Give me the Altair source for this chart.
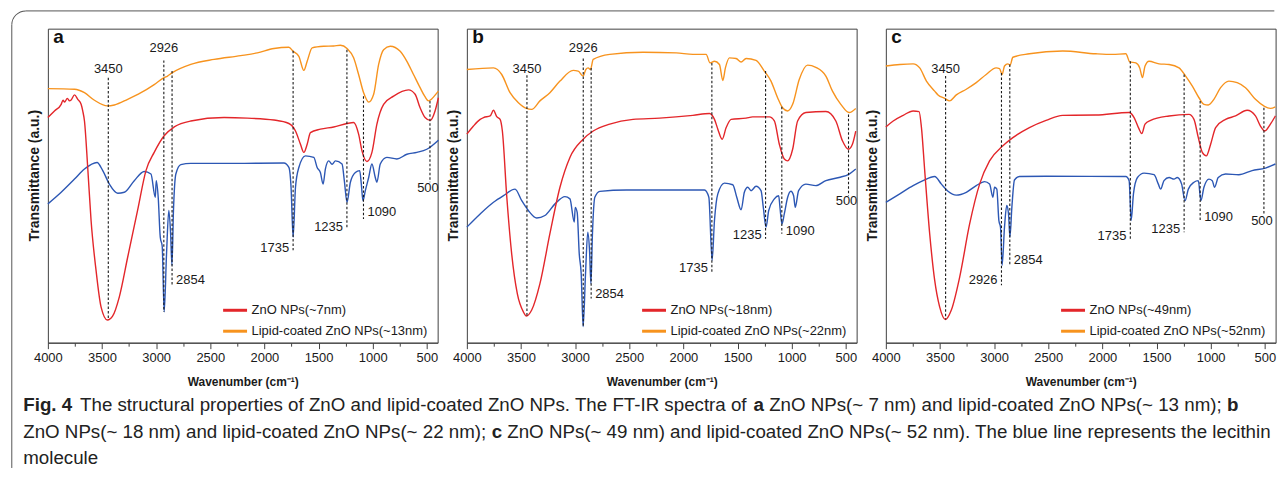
import math
import altair as alt
import pandas as pd

# ---------------- data ----------------
PEAK_LABELS = ["3450", "2926", "2854", "1735", "1235", "1090", "500"]
X_TICKS_MAJOR = [4000, 3500, 3000, 2500, 2000, 1500, 1000, 500]
X_TICKS_MINOR = [3750, 3250, 2750, 2250, 1750, 1250, 750]

LEGEND_A = ["ZnO NPs(~7nm)", "Lipid-coated ZnO NPs(~13nm)"]
LEGEND_B = ["ZnO NPs(~18nm)", "Lipid-coated ZnO NPs(~22nm)"]
LEGEND_C = ["ZnO NPs(~49nm)", "Lipid-coated ZnO NPs(~52nm)"]

# panel a
A_RED_WN = [4000, 3939, 3877, 3860, 3846, 3820, 3800, 3785, 3754, 3724, 3693, 3678, 3662, 3632, 3601, 3555, 3509, 3450, 3401, 3340,
            3263, 3171, 3094, 3018, 2926, 2833, 2680, 2373, 2158, 1912, 1774, 1713, 1667, 1636, 1605, 1575, 1483, 1360, 1237, 1176,
            1130, 1099, 1053, 1007, 961, 899, 807, 669, 608, 562, 516, 469, 424, 393]
A_RED_T = [71.7, 73.8, 75.9, 77.2, 76.6, 77.8, 77.0, 77.3, 78.9, 77.5, 75.9, 73.8, 70.6, 55.8, 38.9, 23.0, 11.4, 7.2, 8.5, 14.6,
           27.2, 42.2, 54.8, 60.6, 65.9, 68.7, 70.6, 71.7, 71.5, 70.9, 69.8, 67.4, 63.2, 60.6, 63.2, 66.9, 68.0, 68.7, 69.8, 70.1,
           66.4, 61.1, 57.7, 60.6, 69.6, 75.9, 78.5, 80.5, 79.1, 74.8, 71.7, 70.8, 73.8, 78.0]
A_ORG_WN = [4000, 3754, 3662, 3570, 3450, 3386, 3263, 3140, 3018, 2926, 2895, 2854, 2680, 2465, 2219, 2066, 1912, 1774, 1735, 1682,
            1636, 1605, 1559, 1452, 1360, 1298, 1237, 1176, 1130, 1084, 1037, 991, 945, 899, 838, 746, 684, 623, 562, 520,
            485, 455, 439, 393]
A_ORG_T = [80.9, 80.7, 79.6, 77.2, 75.4, 75.7, 77.5, 79.6, 82.2, 84.4, 84.9, 85.9, 88.6, 90.2, 91.4, 92.3, 93.7, 94.1, 92.8, 91.2,
           86.7, 89.6, 93.9, 94.4, 94.5, 94.7, 93.7, 90.7, 85.4, 79.6, 76.6, 79.1, 88.6, 93.3, 94.4, 92.8, 89.6, 85.4, 81.2, 78.5,
           77.0, 77.6, 78.2, 80.1]
A_BLUE_WN = [4000, 3877, 3754, 3662, 3546, 3493, 3432, 3355, 3294, 3202, 3110, 3048, 3008, 2999, 2981, 2962, 2944, 2926, 2904, 2883,
             2867, 2854, 2840, 2818, 2772, 2680, 2219, 1820, 1774, 1754, 1735, 1713, 1682, 1621, 1544, 1513, 1483, 1458, 1437, 1406,
             1375, 1344, 1283, 1262, 1237, 1206, 1160, 1120, 1105, 1090, 1068, 1037, 1007, 976, 961, 930, 869, 777, 684, 592,
             500, 393]
A_BLUE_T = [44.2, 47.9, 52.1, 55.3, 57.4, 54.8, 50.5, 47.6, 47.9, 51.6, 54.5, 53.7, 46.3, 51.6, 46.3, 33.6, 30.7, 9.8, 28.3, 42.1,
            35.2, 24.6, 42.1, 53.7, 56.7, 57.1, 57.1, 57.2, 55.8, 49.5, 33.6, 49.5, 55.8, 59.5, 59.0, 55.8, 54.2, 50.5, 55.3, 57.9,
            56.8, 57.9, 56.9, 51.6, 44.7, 51.1, 54.2, 54.8, 50.5, 45.2, 48.4, 52.6, 56.9, 52.6, 51.1, 56.9, 59.0, 58.5, 60.0, 60.6,
            61.6, 64.5]
A_LINE_WN = [3442, 2929, 2853, 1735, 1238, 1085, 471]
A_TOP = [84.4, 89.9, 86.5, 93.0, 93.3, 78.5, 77.0]
A_BOT = [7.2, 9.8, 18.0, 29.4, 36.3, 39.4, 51.1]
A_LAB_T = [87.0, 93.7, 19.9, 30.2, 36.8, 41.5, 49.2]
A_LAB_POS = ["above", "above", "right", "left", "left", "right", "below"]

# panel b
B_RED_WN = [4000, 3939, 3877, 3846, 3785, 3754, 3724, 3693, 3672, 3632, 3586, 3534, 3478, 3450, 3401, 3325, 3233, 3140, 3048, 2926,
            2833, 2680, 2465, 2219, 1912, 1759, 1713, 1682, 1642, 1605, 1559, 1421, 1360, 1206, 1160, 1114, 1068, 1037, 991, 945,
            869, 684, 592, 531, 476, 439, 408]
B_RED_T = [66.4, 69.0, 71.1, 71.7, 72.2, 74.0, 72.0, 71.1, 67.4, 46.8, 28.3, 15.6, 9.8, 8.5, 10.4, 18.8, 34.7, 49.5, 59.0, 64.8,
           67.4, 69.6, 71.1, 71.5, 72.4, 73.0, 71.1, 68.0, 64.8, 68.5, 71.1, 71.5, 71.9, 71.9, 70.6, 63.2, 58.5, 57.9, 61.6, 70.6,
           73.3, 73.6, 70.6, 64.3, 61.6, 63.2, 67.4]
B_ORG_WN = [4000, 3754, 3678, 3601, 3524, 3450, 3401, 3325, 3233, 3140, 3018, 2972, 2926, 2901, 2880, 2858, 2833, 2680, 2373, 2066,
            1912, 1790, 1754, 1713, 1667, 1636, 1612, 1575, 1513, 1467, 1421, 1329, 1253, 1191, 1130, 1084, 1037, 991, 930, 853,
            777, 684, 623, 546, 469, 408]
B_ORG_T = [87.0, 87.5, 85.4, 79.6, 76.4, 74.6, 74.3, 77.0, 79.6, 83.3, 86.7, 86.5, 84.9, 87.0, 87.5, 87.0, 90.2, 91.8, 92.5, 92.3,
           91.8, 91.8, 89.1, 89.6, 88.6, 83.5, 87.5, 90.7, 90.5, 89.4, 90.5, 89.9, 86.5, 83.3, 78.0, 74.8, 73.8, 75.9, 83.8, 88.4,
           87.7, 84.9, 80.1, 75.9, 73.3, 74.6]
B_BLUE_WN = [4000, 3877, 3754, 3662, 3555, 3493, 3432, 3355, 3279, 3186, 3094, 3048, 3008, 2999, 2981, 2962, 2944, 2926, 2904, 2883,
             2867, 2854, 2840, 2818, 2772, 2526, 1805, 1765, 1735, 1713, 1682, 1621, 1544, 1507, 1467, 1437, 1406, 1375, 1329, 1283,
             1262, 1237, 1212, 1160, 1120, 1108, 1090, 1068, 1037, 1007, 982, 967, 936, 869, 777, 684, 562, 469, 408]
B_BLUE_T = [36.8, 41.0, 44.7, 46.8, 48.9, 45.2, 42.1, 39.7, 40.5, 44.2, 46.5, 45.8, 38.4, 43.1, 41.5, 28.3, 22.0, 5.1, 22.0, 35.2,
            29.4, 18.8, 34.7, 46.3, 48.2, 48.6, 48.6, 46.3, 26.2, 38.9, 47.4, 50.8, 50.3, 46.3, 42.3, 47.9, 49.5, 48.4, 49.8, 48.4,
            43.1, 36.8, 42.1, 45.8, 46.8, 43.1, 37.8, 41.0, 46.3, 48.2, 46.8, 43.1, 48.4, 50.5, 50.0, 51.6, 52.6, 53.7, 55.3]
B_LINE_WN = [3445, 2925, 2852, 1737, 1241, 1091, 475]
B_TOP = [85.2, 90.5, 87.5, 89.1, 86.5, 75.1, 72.7]
B_BOT = [8.5, 5.1, 14.1, 22.5, 33.1, 34.7, 46.8]
B_LAB_T = [87.0, 93.7, 15.4, 23.9, 34.4, 35.7, 45.2]
B_LAB_POS = ["above", "above", "right", "left", "left", "right", "below"]

# panel c
C_RED_WN = [4000, 3932, 3840, 3748, 3693, 3671, 3641, 3595, 3549, 3503, 3450, 3395, 3318, 3226, 3134, 3042, 2919, 2827, 2674, 2520,
            2367, 2060, 1753, 1707, 1667, 1636, 1606, 1554, 1384, 1200, 1154, 1114, 1077, 1040, 1000, 954, 862, 770, 663, 586,
            540, 500, 448, 402]
C_RED_T = [68.7, 70.6, 72.4, 73.8, 73.6, 68.5, 54.8, 34.7, 19.9, 11.4, 7.4, 10.4, 20.9, 37.8, 50.5, 57.9, 62.7, 65.3, 68.5, 70.8,
           72.4, 72.5, 73.3, 71.7, 68.5, 66.6, 69.6, 70.8, 72.2, 72.7, 71.1, 65.3, 60.6, 59.5, 63.2, 68.5, 71.1, 72.2, 74.0, 72.2,
           69.0, 67.4, 69.6, 72.2]
C_ORG_WN = [4000, 3871, 3748, 3687, 3625, 3549, 3518, 3457, 3411, 3349, 3257, 3165, 3073, 2981, 2950, 2926, 2904, 2873, 2852, 2827,
            2674, 2367, 2060, 1906, 1783, 1747, 1691, 1655, 1630, 1606, 1569, 1477, 1384, 1292, 1231, 1169, 1108, 1062, 1022, 970,
            908, 832, 755, 678, 586, 509, 448, 402]
C_ORG_T = [88.1, 88.6, 88.8, 87.5, 83.3, 80.1, 78.9, 77.8, 77.0, 78.9, 80.7, 82.8, 85.4, 87.5, 87.3, 85.4, 88.1, 88.8, 88.4, 90.9,
           92.0, 92.9, 92.0, 91.8, 92.0, 89.4, 89.1, 87.5, 84.4, 88.1, 89.6, 88.8, 88.6, 87.5, 84.9, 81.7, 78.0, 75.9, 75.7, 77.5,
           81.2, 83.3, 82.8, 81.2, 77.5, 75.4, 74.6, 75.1]
C_BLUE_WN = [4000, 3871, 3748, 3656, 3549, 3487, 3426, 3349, 3257, 3165, 3088, 3042, 3011, 2996, 2975, 2956, 2941, 2926, 2904, 2883,
             2867, 2854, 2836, 2812, 2766, 2520, 1783, 1753, 1734, 1713, 1676, 1615, 1523, 1483, 1462, 1431, 1384, 1338, 1308, 1268,
             1237, 1206, 1154, 1114, 1090, 1062, 1016, 985, 964, 930, 862, 740, 617, 494, 402]
C_BLUE_T = [44.7, 47.4, 50.0, 51.6, 52.9, 50.5, 48.2, 47.0, 47.9, 50.0, 51.3, 50.5, 46.3, 49.5, 48.9, 38.9, 36.8, 24.6, 36.8, 43.7,
            41.0, 33.6, 43.1, 51.8, 52.9, 53.0, 52.9, 51.6, 38.9, 47.4, 52.6, 54.0, 53.5, 50.5, 48.9, 51.6, 52.6, 52.1, 52.6, 50.5,
            45.2, 48.9, 51.1, 51.6, 45.2, 49.5, 52.1, 51.6, 49.5, 52.6, 53.7, 53.5, 54.8, 55.6, 56.9]
C_LINE_WN = [3448, 2932, 2855, 1742, 1245, 1097, 508]
C_TOP = [84.9, 85.9, 88.6, 89.6, 85.4, 77.0, 74.8]
C_BOT = [7.4, 18.3, 24.6, 33.1, 35.2, 38.4, 41.0]
C_LAB_T = [87.0, 19.9, 26.2, 34.1, 36.3, 40.0, 38.9]
C_LAB_POS = ["above", "left", "right", "left", "left", "right", "below"]

CAPTION = [
    [("Fig. 4", True),
     ("The structural properties of ZnO and lipid-coated ZnO NPs. The FT-IR spectra of", False),
     ("a", True),
     ("ZnO NPs(~ 7 nm) and lipid-coated ZnO NPs(~ 13 nm);", False),
     ("b", True)],
    [("ZnO NPs(~ 18 nm) and lipid-coated ZnO NPs(~ 22 nm);", False),
     ("c", True),
     ("ZnO NPs(~ 49 nm) and lipid-coated ZnO NPs(~ 52 nm). The blue line represents the lecithin", False)],
    [("molecule", False)],
]

# ---------------- styling / layout ----------------
RED = "#e3262a"
ORANGE = "#f7931e"
BLUE = "#2c57b4"
INK = "#1a1a1a"
FRAME = "#404040"
BOX = "#555555"
FONT = "Liberation Sans, Arial, Helvetica, sans-serif"
W, H = 391, 315
X_DOMAIN = [4000, 400]
LW = 1.4
ORIGIN_X, ORIGIN_Y = 46.7, 27.3   # page position of panel a's plot area
CAP_LEFT, CAP_RIGHT = 22, 1274
CAP_Y = [405, 432, 458]
BOX_LEFT, BOX_TOP, BOX_RIGHT, BOX_BOTTOM, BOX_R = 10.5, 9.5, 1277, 468, 14

# Arial advance widths (1/1000 em) for caption layout
_AR = {" ": 278, ".": 278, ";": 278, ",": 278, "-": 333, "(": 333, ")": 333, "~": 584,
       "a": 556, "b": 556, "c": 500, "d": 556, "e": 556, "f": 278, "g": 556, "h": 556, "i": 222,
       "l": 222, "m": 833, "n": 556, "o": 556, "p": 556, "r": 333, "s": 500, "t": 278, "u": 556,
       "F": 611, "T": 611, "Z": 611, "O": 778, "N": 722, "P": 667, "I": 278, "R": 722}
_ARB = {"F": 611, "i": 278, "g": 611, ".": 278, " ": 278, "4": 556, "a": 556, "b": 611, "c": 556}


def em(s, bold):
    tbl = _ARB if bold else _AR
    return sum(tbl.get(ch, 556) for ch in s) / 1000.0


def gap_em(seg):
    return 0.42 if seg[0] == "Fig. 4" else 0.278


def line_em(segs):
    total = 0.0
    for i, seg in enumerate(segs):
        total += em(*seg)
        if i < len(segs) - 1:
            total += gap_em(seg)
    return total


CAP_SIZE = (CAP_RIGHT - CAP_LEFT) / line_em(CAPTION[1])


def xs():
    return alt.Scale(domain=X_DOMAIN, nice=False, zero=False)


def ys():
    return alt.Scale(domain=[0, 100], nice=False, zero=False)


MAJOR_AXIS = alt.Axis(orient="bottom", values=X_TICKS_MAJOR, format="d", tickSize=6, tickColor=FRAME,
                      tickWidth=1, domainColor=FRAME, domainWidth=1, labelFont=FONT, labelFontSize=13,
                      labelColor=INK, labelPadding=3, labelFlush=False, labelOverlap=False, grid=False,
                      title="Wavenumber (cm⁻¹)", titleFont=FONT, titleFontSize=12, titleFontWeight="bold",
                      titleColor=INK, titlePadding=12)
MINOR_AXIS = alt.Axis(orient="bottom", values=X_TICKS_MINOR, tickSize=3.5, tickColor=FRAME, tickWidth=1,
                      labels=False, domain=False, grid=False, title=None)
Y_AXIS = alt.Axis(orient="left", labels=False, ticks=False, domain=False, grid=False,
                  title="Transmittance (a.u.)", titleFont=FONT, titleFontSize=14, titleFontWeight="bold",
                  titleColor=INK, titlePadding=6, titleY=147)

ONE = pd.DataFrame({"k": [0]})


def label_layer(df, pos, align, dx):
    return alt.Chart(df).transform_filter(alt.datum.pos == pos).mark_text(
        align=align, baseline="middle", dx=dx, font=FONT, fontSize=13, color=INK
    ).encode(
        x=alt.X("wn:Q", scale=xs(), axis=None),
        y=alt.Y("lab_t:Q", scale=ys(), axis=Y_AXIS),
        text="label:N",
    )


def panel(letter, legend_labels, red_wn, red_t, org_wn, org_t, blue_wn, blue_t,
          line_wn, top, bot, lab_t, lab_pos, extras=None):
    curves = pd.concat([
        pd.DataFrame({"wn": red_wn, "t": red_t, "series": legend_labels[0]}),
        pd.DataFrame({"wn": org_wn, "t": org_t, "series": legend_labels[1]}),
    ], ignore_index=True)
    blue = pd.DataFrame({"wn": blue_wn, "t": blue_t})
    peaks = pd.DataFrame({"wn": line_wn, "top": top, "bot": bot, "lab_t": lab_t,
                          "pos": lab_pos, "label": PEAK_LABELS})

    blue_layer = alt.Chart(blue).mark_line(color=BLUE, strokeWidth=LW, interpolate="monotone").encode(
        x=alt.X("wn:Q", scale=xs(), axis=MAJOR_AXIS),
        y=alt.Y("t:Q", scale=ys(), axis=Y_AXIS),
    )
    zno_layer = alt.Chart(curves).mark_line(strokeWidth=LW, interpolate="monotone").encode(
        x=alt.X("wn:Q", scale=xs(), axis=None),
        y=alt.Y("t:Q", scale=ys(), axis=Y_AXIS),
        color=alt.Color("series:N",
                        scale=alt.Scale(domain=legend_labels, range=[RED, ORANGE]),
                        legend=alt.Legend(title=None, orient="none", legendX=174.3, legendY=269,
                                          direction="vertical", symbolType="stroke", symbolSize=576,
                                          symbolStrokeWidth=3, labelFont=FONT, labelFontSize=13,
                                          labelColor=INK, labelOffset=3, rowPadding=-3, padding=0,
                                          labelLimit=400)),
    )
    rules = alt.Chart(peaks).mark_rule(color=INK, strokeWidth=1.1, strokeDash=[2.5, 2]).encode(
        x=alt.X("wn:Q", scale=xs(), axis=MINOR_AXIS),
        y=alt.Y("top:Q", scale=ys(), axis=Y_AXIS),
        y2="bot:Q",
    )
    labels = [
        label_layer(peaks, "above", "center", 0),
        label_layer(peaks, "right", "left", 4),
        label_layer(peaks, "left", "right", -4),
        label_layer(peaks, "below", "center", -2),
    ]
    letter_layer = alt.Chart(ONE).mark_text(
        align="left", baseline="middle", font=FONT, fontSize=19, fontWeight="bold", color="#111"
    ).encode(x=alt.value(5.5), y=alt.value(8), text=alt.value(letter))

    layers = (extras or []) + [blue_layer, zno_layer, rules] + labels + [letter_layer]
    return alt.layer(*layers).resolve_axis(x="independent").properties(width=W, height=H)


# decorations living in panel a's coordinate space: figure box (top + left edges, rounded corner) and caption
def rel_x(px):
    return px - ORIGIN_X


def rel_y(py):
    return py - ORIGIN_Y


box_top = alt.Chart(ONE).mark_rule(color=BOX, strokeWidth=1).encode(
    x=alt.value(rel_x(BOX_LEFT + BOX_R)), x2=alt.value(rel_x(BOX_RIGHT)), y=alt.value(rel_y(BOX_TOP))
)
box_left = alt.Chart(ONE).mark_rule(color=BOX, strokeWidth=1).encode(
    x=alt.value(rel_x(BOX_LEFT)), y=alt.value(rel_y(BOX_TOP + BOX_R)), y2=alt.value(rel_y(BOX_BOTTOM))
)
box_corner = alt.Chart(ONE).mark_arc(
    color=BOX, innerRadius=BOX_R - 0.5, outerRadius=BOX_R + 0.5,
    theta=1.5 * math.pi, theta2=2 * math.pi
).encode(x=alt.value(rel_x(BOX_LEFT + BOX_R)), y=alt.value(rel_y(BOX_TOP + BOX_R)))

caption_layers = []
for row, segs in enumerate(CAPTION):
    x = CAP_LEFT
    for i, (txt, bold) in enumerate(segs):
        caption_layers.append(
            alt.Chart(ONE).mark_text(
                align="left", baseline="middle", font=FONT, fontSize=CAP_SIZE,
                fontWeight="bold" if bold else "normal", color="#222"
            ).encode(x=alt.value(rel_x(x)), y=alt.value(rel_y(CAP_Y[row])), text=alt.value(txt))
        )
        x += em(txt, bold) * CAP_SIZE + gap_em((txt, bold)) * CAP_SIZE

pa = panel("a", LEGEND_A, A_RED_WN, A_RED_T, A_ORG_WN, A_ORG_T, A_BLUE_WN, A_BLUE_T,
           A_LINE_WN, A_TOP, A_BOT, A_LAB_T, A_LAB_POS,
           extras=[box_top, box_left, box_corner] + caption_layers)
pb = panel("b", LEGEND_B, B_RED_WN, B_RED_T, B_ORG_WN, B_ORG_T, B_BLUE_WN, B_BLUE_T,
           B_LINE_WN, B_TOP, B_BOT, B_LAB_T, B_LAB_POS)
pc = panel("c", LEGEND_C, C_RED_WN, C_RED_T, C_ORG_WN, C_ORG_T, C_BLUE_WN, C_BLUE_T,
           C_LINE_WN, C_TOP, C_BOT, C_LAB_T, C_LAB_POS)

chart = alt.hconcat(pa, pb, pc, spacing=29.3, bounds="flush").resolve_scale(
    color="independent"
).properties(
    padding={"left": 2, "top": 1, "right": 0, "bottom": 0},
    background="white",
).configure_view(
    stroke=FRAME, strokeWidth=1
)

chart.save("out.html", embed_options={"renderer": "svg", "actions": False})
